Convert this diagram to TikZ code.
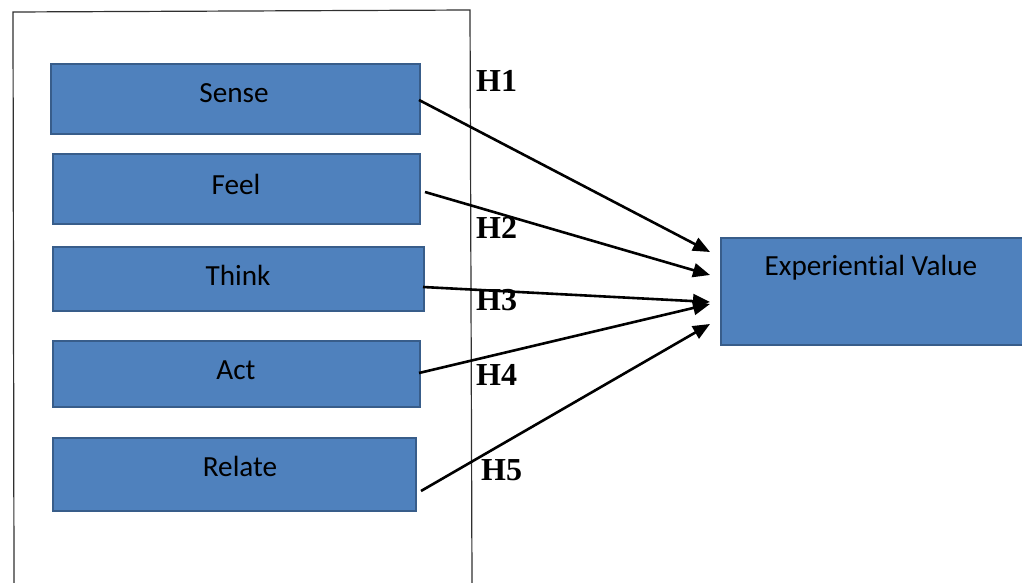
\documentclass[tikz,border=0pt]{standalone}
\usepackage{fontspec}
\setmainfont[RawFeature=-liga]{Carlito}
\newfontfamily\hfont{Liberation Serif}
\usetikzlibrary{arrows.meta}
\definecolor{boxfill}{HTML}{4F81BD}
\definecolor{boxdraw}{HTML}{385D8A}
\definecolor{framecol}{HTML}{303030}
\tikzset{
  box/.style={draw=boxdraw, fill=boxfill, line width=2.2pt, anchor=north west, inner sep=0pt},
  boxtext/.style={font=\fontsize{29.2}{34}\selectfont, text=black, inner sep=0pt},
  hlab/.style={font=\hfont\bfseries\fontsize{32}{36}\selectfont, anchor=west, inner sep=0pt},
  conn/.style={line width=2.6pt, -{Triangle[length=17pt,width=14pt]}},
  frameline/.style={draw=framecol, line width=1.2pt}
}
\begin{document}
\begin{tikzpicture}[x=1pt,y=-1pt]
\useasboundingbox (0,0) rectangle (1022,583);
% frame
\coordinate (ftl) at (13,12);
\coordinate (ftr) at (470,10);
\coordinate (fbl) at (14,583);
\coordinate (fbr) at (472,583);
\draw[frameline] (fbl) -- (ftl) -- (ftr) -- (fbr);
% boxes
\node[box, minimum width=369pt, minimum height=70pt] (sense) at (50,63) {};
\node[box, minimum width=367pt, minimum height=70pt] (feel) at (52,153) {};
\node[box, minimum width=371pt, minimum height=64pt] (think) at (52,246) {};
\node[box, minimum width=367pt, minimum height=66pt] (act) at (52,340) {};
\node[box, minimum width=363pt, minimum height=73pt] (relate) at (52,437) {};
\node[box, minimum width=304pt, minimum height=107pt] (ev) at (720,237) {};
% texts
\node[boxtext] (tsense) at (234,93) {Sense};
\node[boxtext] (tfeel) at (236,184) {Feel};
\node[boxtext] (tthink) at (238,275) {Think};
\node[boxtext] (tact) at (236,370) {Act};
\node[boxtext] (trelate) at (240,466) {Relate};
\node[boxtext] (tev) at (871,268) {Experiential Value};
% labels
\node[hlab] (h1) at (476,81) {H1};
\node[hlab] (h2) at (476,228) {H2};
\node[hlab] (h3) at (476,300) {H3};
\node[hlab] (h4) at (476,375) {H4};
\node[hlab] (h5) at (481,470) {H5};
% connector ends
\coordinate (s1) at (419,100);
\coordinate (s2) at (425,192);
\coordinate (s3) at (423,287);
\coordinate (s4) at (419,373);
\coordinate (s5) at (421,491);
\coordinate (e1) at (710,252);
\coordinate (e2) at (710,275);
\coordinate (e3) at (710,302);
\coordinate (e4) at (710,304);
\coordinate (e5) at (710,324);
\draw[conn] (s1) -- (e1);
\draw[conn] (s2) -- (e2);
\draw[conn] (s3) -- (e3);
\draw[conn] (s4) -- (e4);
\draw[conn] (s5) -- (e5);
\end{tikzpicture}
\end{document}
